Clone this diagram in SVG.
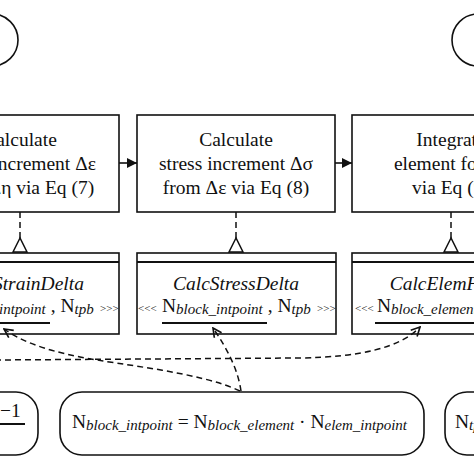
<svg xmlns="http://www.w3.org/2000/svg" width="474" height="474" viewBox="0 0 474 474">
<defs>
<style>
.box{fill:#fff;stroke:#111;stroke-width:1.6}
.sep{stroke:#111;stroke-width:2.2}
.t{font-family:"Liberation Serif","Times New Roman",serif;font-size:19.5px;fill:#111}
.c{text-anchor:middle}
.i{font-style:italic}
.sub{font-style:italic;font-size:15px}
.sm{font-size:11px}
.dash{fill:none;stroke:#111;stroke-width:1.5;stroke-dasharray:6 4}
.flow{fill:none;stroke:#111;stroke-width:1.6}
.tri{fill:#fff;stroke:#111;stroke-width:1.5}
.ul{stroke:#111;stroke-width:1.8}
</style>
<marker id="ah" viewBox="0 0 10 10" refX="10" refY="5" markerWidth="10" markerHeight="10" markerUnits="userSpaceOnUse" orient="auto">
<path d="M0,0 L10,5 L0,10 z" fill="#111"/>
</marker>
<marker id="open" viewBox="0 0 10 10" refX="9" refY="5" markerWidth="11" markerHeight="11" markerUnits="userSpaceOnUse" orient="auto">
<path d="M1,1 L9,5 L1,9" fill="none" stroke="#111" stroke-width="1.5"/>
</marker>
</defs>
<rect width="474" height="474" fill="#fff"/>

<g id="start"><rect class="box" x="-120" y="14" width="138" height="52" rx="26"/></g>
<g id="end"><rect class="box" x="452" y="14" width="138" height="52" rx="26"/></g>

<g id="step1">
<rect class="box" x="-79" y="115" width="198" height="97"/>
<text class="t c" x="20" y="146">Calculate</text>
<text class="t c" x="20" y="170">strain increment Δε</text>
<text class="t c" x="20" y="194">from Δη via Eq (7)</text>
</g>
<g id="step2">
<rect class="box" x="137" y="115" width="198" height="97"/>
<text class="t c" x="236" y="146">Calculate</text>
<text class="t c" x="236" y="170">stress increment Δσ</text>
<text class="t c" x="236" y="194">from Δε via Eq (8)</text>
</g>
<g id="step3">
<rect class="box" x="352" y="115" width="198" height="97"/>
<text class="t c" x="451" y="146">Integrate</text>
<text class="t c" x="451" y="170">element forces</text>
<text class="t c" x="451" y="194">via Eq (9)</text>
</g>

<g id="class1">
<rect class="box" x="-80" y="253" width="199" height="81"/>
<line class="sep" x1="-80" y1="262" x2="119" y2="262"/>
<text class="t c i" x="20" y="290">CalcStrainDelta</text>
<text class="t" x="-79" y="312"><tspan class="sm">&lt;&lt;&lt;</tspan><tspan x="-55">N</tspan><tspan class="sub" dy="2">block_intpoint</tspan><tspan dy="-2"> , N</tspan><tspan class="sub" dy="2">tpb</tspan><tspan class="sm" dy="-2" x="100">&gt;&gt;&gt;</tspan></text>
<line class="ul" x1="-55" y1="323" x2="50" y2="323"/>
</g>
<g id="class2">
<rect class="box" x="137" y="253" width="199" height="81"/>
<line class="sep" x1="137" y1="262" x2="336" y2="262"/>
<text class="t c i" x="236" y="290">CalcStressDelta</text>
<text class="t" x="138" y="312"><tspan class="sm">&lt;&lt;&lt;</tspan><tspan x="162">N</tspan><tspan class="sub" dy="2">block_intpoint</tspan><tspan dy="-2"> , N</tspan><tspan class="sub" dy="2">tpb</tspan><tspan class="sm" dy="-2" x="317">&gt;&gt;&gt;</tspan></text>
<line class="ul" x1="162" y1="323" x2="267" y2="323"/>
</g>
<g id="class3">
<rect class="box" x="352" y="253" width="199" height="81"/>
<line class="sep" x1="352" y1="262" x2="551" y2="262"/>
<text class="t c i" x="451" y="290">CalcElemForce</text>
<text class="t" x="355" y="312"><tspan class="sm">&lt;&lt;&lt;</tspan><tspan x="377">N</tspan><tspan class="sub" dy="2">block_element</tspan><tspan dy="-2"> , N</tspan><tspan class="sub" dy="2">tpb</tspan><tspan class="sm" dy="-2"> &gt;&gt;&gt;</tspan></text>
<line class="ul" x1="375" y1="323" x2="480" y2="323"/>
</g>

<g id="eq1">
<rect class="box" x="-150" y="392" width="188" height="63" rx="22"/>
<text class="t" x="0" y="417">−1</text>
<line class="ul" x1="-40" y1="424" x2="25" y2="424"/>
</g>
<g id="eq2">
<rect class="box" x="60" y="392" width="364" height="63" rx="22"/>
<text class="t" x="72" y="428">N<tspan class="sub" dy="2">block_intpoint</tspan><tspan dy="-2"> = N</tspan><tspan class="sub" dy="2">block_element</tspan><tspan dy="-2"> · N</tspan><tspan class="sub" dy="2">elem_intpoint</tspan></text>
</g>
<g id="eq3">
<rect class="box" x="445" y="392" width="200" height="63" rx="22"/>
<text class="t" x="455" y="428">N<tspan class="sub" dy="2">tpb</tspan></text>
</g>

<g id="connectors">
<path class="flow" d="M119,163 L137,163" marker-end="url(#ah)"/>
<path class="flow" d="M335,163 L352,163" marker-end="url(#ah)"/>
<path class="dash" d="M20,212 L20,238"/>
<path class="dash" d="M236,212 L236,238"/>
<path class="dash" d="M451,212 L451,238"/>
<polygon class="tri" points="20,238 13,252 27,252"/>
<polygon class="tri" points="236,238 229,252 243,252"/>
<polygon class="tri" points="451,238 444,252 458,252"/>
<path class="dash" d="M240,391 C200,372 120,365 80,357 S20,340 4,329" marker-end="url(#open)"/>
<path class="dash" d="M241,391 C238,370 228,350 213,328" marker-end="url(#open)"/>
<path class="dash" d="M-5,360 L300,358 C360,357 400,348 420,327" marker-end="url(#open)"/>
</g>
</svg>
